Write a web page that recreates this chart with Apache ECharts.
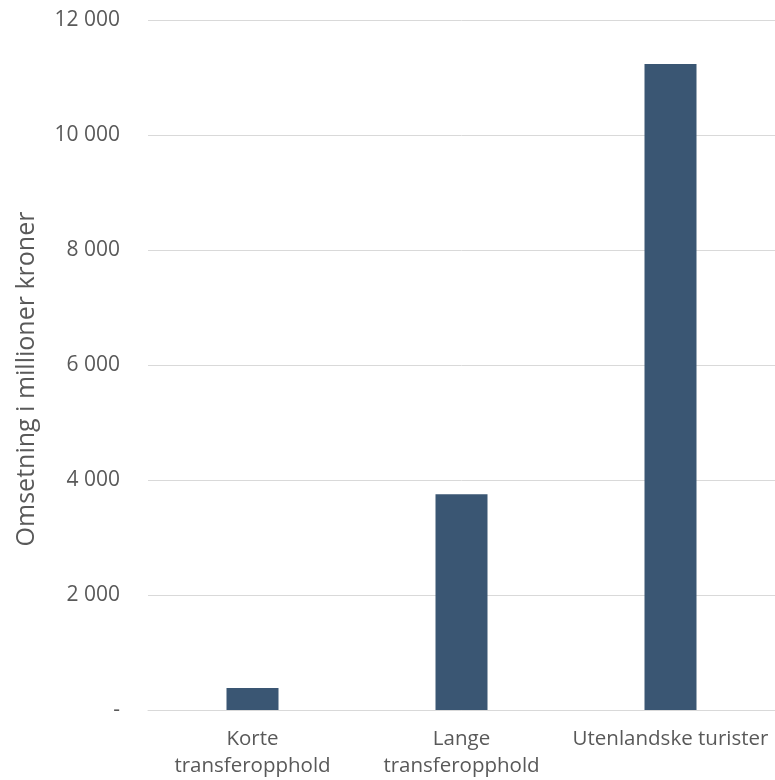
<!DOCTYPE html>
<html><head><meta charset="utf-8">
<script src="https://cdn.jsdelivr.net/npm/echarts@6/dist/echarts.min.js"></script>
<style>html,body{margin:0;padding:0;background:#fff}#c{width:775px;height:780px}</style>
</head><body><div id="c"></div>
<script>
const categories = ["Korte transferopphold", "Lange transferopphold", "Utenlandske turister"];
const values = [383, 3751, 11235];
const yTicks = [0, 2000, 4000, 6000, 8000, 10000, 12000];
const yTitle = "Omsetning i millioner kroner";

const font = "'Open Sans', sans-serif";
const chart = echarts.init(document.getElementById('c'), null, {renderer: 'canvas'});
function fmt(v){ if (v === 0) return '-'; return String(v).replace(/\B(?=(\d{3})+(?!\d))/g, ' '); }
chart.setOption({
  animation: false,
  grid: {left: 148, top: 20, width: 630, height: 690, containLabel: false},
  graphic: [{
    type: 'text', x: 27, y: 379, rotation: Math.PI / 2,
    style: {text: yTitle, fill: '#595959', font: "25px 'Open Sans', sans-serif",
      textAlign: 'center', textVerticalAlign: 'middle'}
  }],
  xAxis: {
    type: 'category', data: categories,
    axisLine: {lineStyle: {color: '#D9D9D9', width: 1}},
    axisTick: {show: false},
    axisLabel: {color: '#595959', fontFamily: font, fontSize: 20.5, lineHeight: 27, margin: 16, interval: 0,
      formatter: v => v.replace(' transferopphold', '\ntransferopphold')}
  },
  yAxis: {
    type: 'value', min: yTicks[0], max: yTicks[yTicks.length-1], interval: 2000,
    axisLine: {show: false}, axisTick: {show: false},
    splitLine: {lineStyle: {color: '#D9D9D9', width: 1}},
    axisLabel: {color: '#595959', fontFamily: font, fontSize: 21, margin: 28, formatter: fmt}
  },
  series: [{
    type: 'bar', data: values, barWidth: 52,
    itemStyle: {color: '#3A5673'}
  }]
});
</script></body></html>
